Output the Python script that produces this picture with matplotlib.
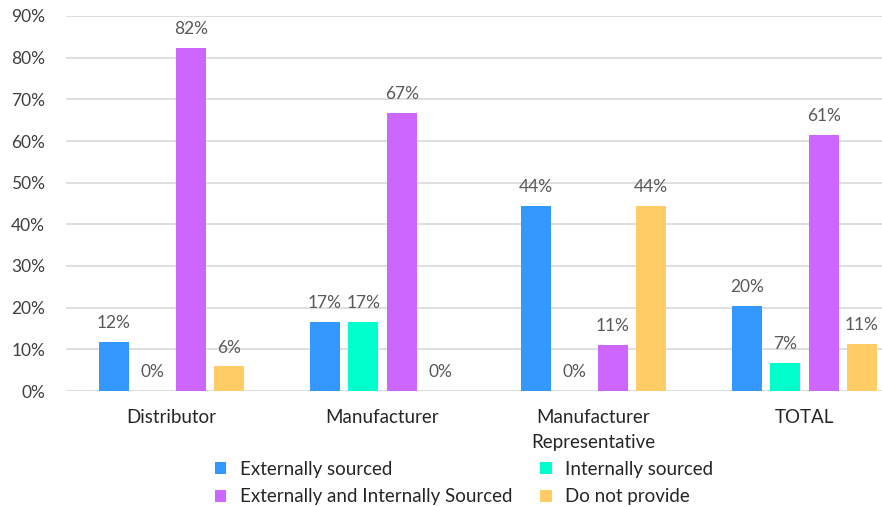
import matplotlib
matplotlib.use("Agg")
import matplotlib.pyplot as plt
import numpy as np

plt.rcParams['font.family'] = ['Lato', 'DejaVu Sans']

categories = ["Distributor", "Manufacturer", "Manufacturer\nRepresentative", "TOTAL"]
series_names = ["Externally sourced", "Internally sourced",
                "Externally and Internally Sourced", "Do not provide"]
externally = [0.118, 0.1667, 0.4444, 0.205]
internally = [0.0, 0.1667, 0.0, 0.068]
ext_and_int = [0.824, 0.6667, 0.1111, 0.614]
do_not_provide = [0.059, 0.0, 0.4444, 0.114]
yticks = [0.0, 0.1, 0.2, 0.3, 0.4, 0.5, 0.6, 0.7, 0.8, 0.9]

series = [externally, internally, ext_and_int, do_not_provide]
colors = ["#3399FF", "#00FFCC", "#CC66FF", "#FFCC66"]

W, H = 882, 507
fig = plt.figure(figsize=(W / 100, H / 100), dpi=100)
ax = fig.add_axes([66 / W, (H - 391) / H, (W - 66) / W, (391 - 16) / H])

x = np.arange(len(categories))
pitch = 0.1815
width = 0.142
handles = []
for i, (vals, col, name) in enumerate(zip(series, colors, series_names)):
    pos = x + (i - 1.5) * pitch
    b = ax.bar(pos, vals, width=width, color=col, label=name, zorder=3)
    handles.append(b)
    for px, v in zip(pos, vals):
        ax.annotate(f"{v * 100:.0f}%", (px, v), xytext=(0, 10),
                    textcoords="offset points", ha="center", va="baseline",
                    fontsize=12.5, color="#595959")

ax.set_xlim(-0.5, (882 - 171.5) / 211)
ax.set_ylim(0, 0.9)
ax.set_yticks(yticks)
ax.set_yticklabels([f"{t * 100:.0f}%" for t in yticks])
ax.set_xticks(x)
ax.set_xticklabels(categories)
for lbl in ax.get_xticklabels():
    lbl.set_linespacing(1.6)
ax.tick_params(axis="y", length=0, pad=15, labelsize=12.5, labelcolor="#404040")
ax.tick_params(axis="x", length=0, pad=13, labelsize=13.5, labelcolor="#262626")
ax.grid(axis="y", color="#D9D9D9", linewidth=1.2, zorder=0)
ax.set_axisbelow(True)
for s in ax.spines.values():
    s.set_visible(False)

order = [0, 2, 1, 3]
fig.legend([handles[k] for k in order], [series_names[k] for k in order],
           ncol=2, loc="center", bbox_to_anchor=(464 / W, 1 - 483 / H),
           frameon=False, fontsize=13.5, handlelength=0.6, handleheight=0.6,
           handletextpad=0.7, columnspacing=1.5, labelspacing=0.55,
           labelcolor="#262626")

fig.savefig("out.png", dpi=100)
